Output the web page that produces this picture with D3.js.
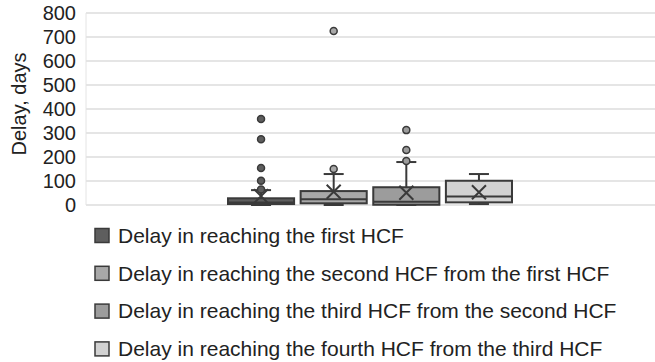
<!DOCTYPE html>
<html>
<head>
<meta charset="utf-8">
<script src="https://cdn.jsdelivr.net/npm/d3@7"></script>
<style>
  body { margin: 0; background: #fff; }
  text { font-family: "Liberation Sans", Arial, sans-serif; fill: #222; }
</style>
</head>
<body>
<svg id="chart" width="655" height="362"></svg>
<script>
// series names (legend)
var series = [
    "Delay in reaching the first HCF",
    "Delay in reaching the second HCF from the first HCF",
    "Delay in reaching the third HCF from the second HCF",
    "Delay in reaching the fourth HCF from the third HCF"
];
// box plot stats (days)
var whiskerLow = [0, 0, 0, 4];
var q1 = [4, 7, 1, 11];
var median = [10, 24, 14, 35];
var q3 = [28, 58, 74, 101];
var whiskerHigh = [62, 129, 179, 129];
var mean = [37, 55, 51, 53];
var outliers = [
    [65, 101, 154, 274, 358],
    [150, 725],
    [183, 229, 312],
    []
];
var yTicks = [0, 100, 200, 300, 400, 500, 600, 700, 800];
var colors = ["#5e5e5e", "#a8a8a8", "#9c9c9c", "#d2d2d2"];

var svg = d3.select("#chart");
var W = 655, H = 362;
var padLeft = 86, padRight = 654, padTop = 13, padBottom = 205;

var yScale = d3.scaleLinear().domain([0, 800]).range([padBottom, padTop]);
// one category, the four series share the middle half of the plot
var xScale = d3.scaleBand()
    .domain(d3.range(series.length))
    .range([padLeft + (padRight - padLeft) * 0.25, padRight - (padRight - padLeft) * 0.25])
    .paddingInner(0.09);

//Gridlines
svg.append("g")
    .selectAll("line")
    .data(yTicks)
    .enter()
    .append("line")
    .attr("x1", padLeft)
    .attr("x2", W)
    .attr("y1", function(d) { return yScale(d); })
    .attr("y2", function(d) { return yScale(d); })
    .style("stroke", "#dcdcdc")
    .style("stroke-width", 1.5);

svg.append("line")
    .attr("x1", padLeft).attr("x2", padLeft)
    .attr("y1", padTop).attr("y2", padBottom)
    .style("stroke", "#e4e4e4");

//Y axis labels
var yAxis = d3.axisLeft(yScale).tickValues(yTicks).tickSize(0).tickPadding(0);
var yg = svg.append("g")
    .attr("transform", "translate(76,0)")
    .call(yAxis);
yg.select(".domain").remove();
yg.selectAll("text")
    .attr("font-size", "20px")
    .attr("fill", "#222")
    .style("font-family", "'Liberation Sans', Arial, sans-serif");

svg.append("text")
    .attr("transform", "translate(26,104) rotate(-90)")
    .attr("text-anchor", "middle")
    .attr("font-size", "20px")
    .text("Delay, days");

//Boxes
var stroke = "#3a3a3a";
var bw = xScale.bandwidth();
var boxes = svg.selectAll(".box")
    .data(series)
    .enter()
    .append("g")
    .attr("class", "box")
    .attr("transform", function(d, i) { return "translate(" + xScale(i) + ",0)"; });

var cx = bw / 2, capW = 20;
// whiskers
boxes.append("line")
    .attr("x1", cx).attr("x2", cx)
    .attr("y1", function(d, i) { return yScale(whiskerHigh[i]); })
    .attr("y2", function(d, i) { return yScale(q3[i]); })
    .style("stroke", stroke).style("stroke-width", 2);
boxes.append("line")
    .attr("x1", cx).attr("x2", cx)
    .attr("y1", function(d, i) { return yScale(q1[i]); })
    .attr("y2", function(d, i) { return yScale(whiskerLow[i]); })
    .style("stroke", stroke).style("stroke-width", 2);
boxes.append("line")
    .attr("x1", cx - capW / 2).attr("x2", cx + capW / 2)
    .attr("y1", function(d, i) { return yScale(whiskerHigh[i]); })
    .attr("y2", function(d, i) { return yScale(whiskerHigh[i]); })
    .style("stroke", stroke).style("stroke-width", 2);
boxes.append("line")
    .attr("x1", cx - capW / 2).attr("x2", cx + capW / 2)
    .attr("y1", function(d, i) { return yScale(whiskerLow[i]); })
    .attr("y2", function(d, i) { return yScale(whiskerLow[i]); })
    .style("stroke", stroke).style("stroke-width", 2);
// box
boxes.append("rect")
    .attr("x", 0)
    .attr("width", bw)
    .attr("y", function(d, i) { return yScale(q3[i]); })
    .attr("height", function(d, i) { return yScale(q1[i]) - yScale(q3[i]); })
    .attr("fill", function(d, i) { return colors[i]; })
    .style("stroke", stroke).style("stroke-width", 2);
// median
boxes.append("line")
    .attr("x1", 0).attr("x2", bw)
    .attr("y1", function(d, i) { return yScale(median[i]); })
    .attr("y2", function(d, i) { return yScale(median[i]); })
    .style("stroke", stroke).style("stroke-width", 2);
// mean X
var xs = 7;
boxes.append("path")
    .attr("d", function(d, i) {
        var y = yScale(mean[i]);
        return "M" + (cx - xs) + "," + (y - xs) + "L" + (cx + xs) + "," + (y + xs) +
               "M" + (cx - xs) + "," + (y + xs) + "L" + (cx + xs) + "," + (y - xs);
    })
    .style("stroke", stroke).style("stroke-width", 2).style("fill", "none");
// outliers
boxes.each(function(d, i) {
    d3.select(this).selectAll("circle")
        .data(outliers[i])
        .enter()
        .append("circle")
        .attr("cx", cx)
        .attr("cy", function(v) { return yScale(v); })
        .attr("r", 3.5)
        .attr("fill", colors[i])
        .style("stroke", stroke).style("stroke-width", 1.5);
});

//Legend
var legend = svg.selectAll(".legend")
    .data(series)
    .enter()
    .append("g")
    .attr("class", "legend")
    .attr("transform", function(d, i) { return "translate(95," + (235.5 + i * 37.8) + ")"; });
legend.append("rect")
    .attr("x", 0).attr("y", -7)
    .attr("width", 14).attr("height", 14)
    .attr("fill", function(d, i) { return colors[i]; })
    .style("stroke", stroke).style("stroke-width", 1.5);
legend.append("text")
    .attr("x", 23)
    .attr("y", 0)
    .attr("dy", "0.35em")
    .attr("font-size", "21px")
    .text(function(d) { return d; });
</script>
</body>
</html>
